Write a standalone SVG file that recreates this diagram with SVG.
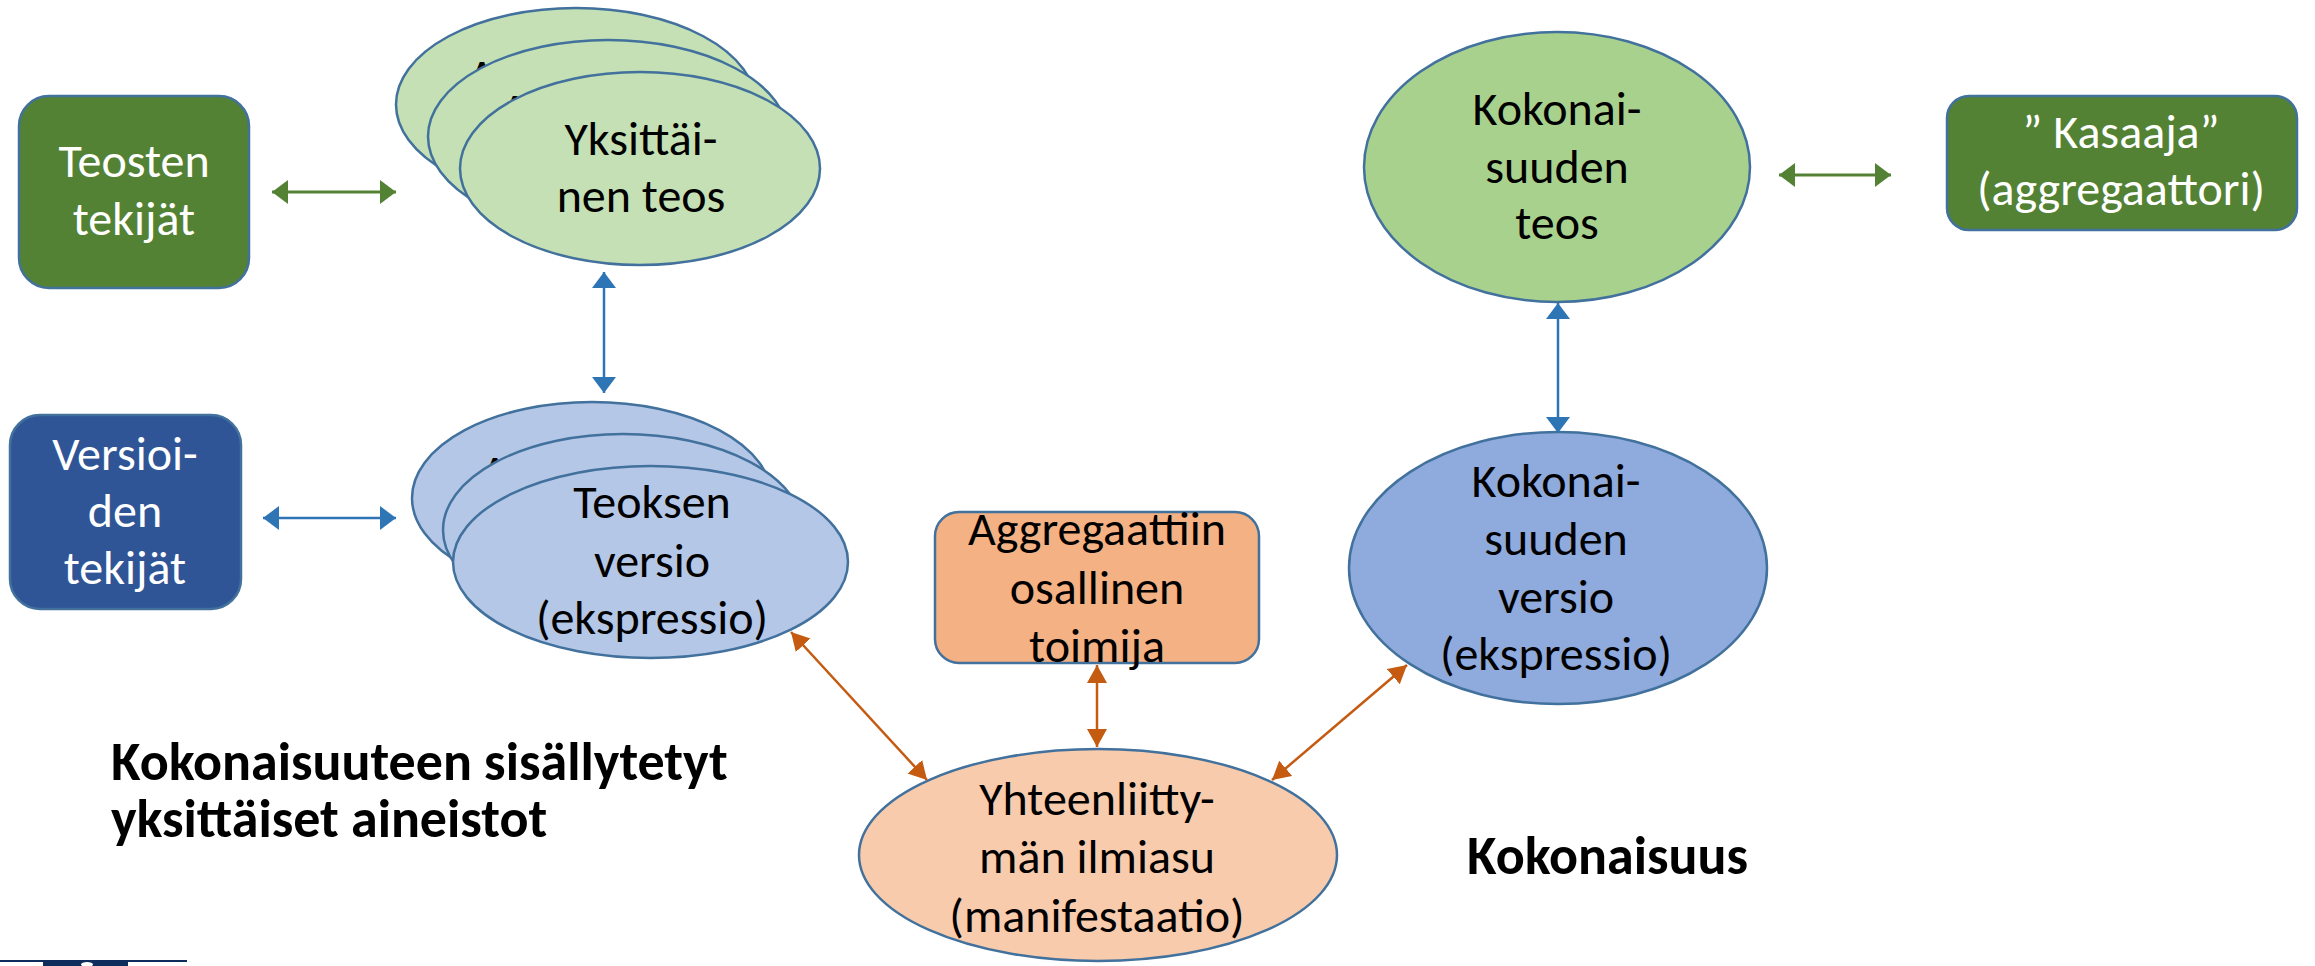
<svg xmlns="http://www.w3.org/2000/svg" width="2315" height="966" viewBox="0 0 2315 966">
<style>
text{font-family:Carlito,Lato,"Liberation Sans",sans-serif;font-size:48px;text-anchor:middle;fill:#000}
.w{fill:#fff}
.b{font-weight:bold;font-size:54px;text-anchor:start}
.sh{stroke:#41719C;stroke-width:2.5}
.g{stroke:#548235;stroke-width:3;fill:none}
.bl{stroke:#2E75B6;stroke-width:2.5;fill:none}
.o{stroke:#C55A11;stroke-width:2.5;fill:none}
</style>
<defs>
<marker id="mg" viewBox="0 0 16 24" refX="16" refY="12" markerWidth="16" markerHeight="24" markerUnits="userSpaceOnUse" orient="auto-start-reverse"><path d="M0,0 L16,12 L0,24 Z" fill="#548235"/></marker>
<marker id="mb" viewBox="0 0 16 24" refX="16" refY="12" markerWidth="16" markerHeight="24" markerUnits="userSpaceOnUse" orient="auto-start-reverse"><path d="M0,0 L16,12 L0,24 Z" fill="#2E75B6"/></marker>
<marker id="mo" viewBox="0 0 18 20" refX="18" refY="10" markerWidth="18" markerHeight="20" markerUnits="userSpaceOnUse" orient="auto-start-reverse"><path d="M0,0 L18,10 L0,20 Z" fill="#C55A11"/></marker>
</defs>
<rect width="2315" height="966" fill="#fff"/>

<g id="teosten-tekijat">
<rect class="sh" x="19" y="96" width="230" height="192" rx="30" fill="#548235"/>
<text class="w" x="134" y="177">Teosten</text>
<text class="w" x="134" y="235">tekijät</text>
</g>

<g id="yksittainen-teos">
<ellipse class="sh" cx="576" cy="104.5" rx="180" ry="96.5" fill="#C5E0B4"/>
<text x="482" y="92">A</text>
<ellipse class="sh" cx="608" cy="136.5" rx="180" ry="96.5" fill="#C5E0B4"/>
<text x="515" y="126">A</text>
<ellipse class="sh" cx="640" cy="168.5" rx="180" ry="96.5" fill="#C5E0B4"/>
<text x="641" y="155">Yksittäi-</text>
<text x="641" y="212">nen teos</text>
</g>

<g id="versioiden-tekijat">
<rect class="sh" x="10" y="415" width="231" height="194" rx="30" fill="#2F5597"/>
<text class="w" x="125" y="470">Versioi-</text>
<text class="w" x="125" y="527">den</text>
<text class="w" x="125" y="584">tekijät</text>
</g>

<g id="teoksen-versio">
<ellipse class="sh" cx="592" cy="498" rx="180" ry="96" fill="#B4C7E7"/>
<text x="495" y="488">A</text>
<ellipse class="sh" cx="623" cy="530" rx="180" ry="96" fill="#B4C7E7"/>
<ellipse class="sh" cx="650.5" cy="562" rx="197.5" ry="96" fill="#B4C7E7"/>
<text x="652" y="518">Teoksen</text>
<text x="652" y="577">versio</text>
<text x="652" y="634">(ekspressio)</text>
</g>

<g id="kokonaisuuden-teos">
<ellipse class="sh" cx="1557" cy="167" rx="193" ry="135" fill="#A9D18E"/>
<text x="1557" y="125">Kokonai-</text>
<text x="1557" y="183">suuden</text>
<text x="1557" y="239">teos</text>
</g>

<g id="kasaaja">
<rect class="sh" x="1947" y="96" width="350" height="134" rx="22" fill="#548235"/>
<text class="w" x="2121" y="148">” Kasaaja”</text>
<text class="w" x="2121" y="205">(aggregaattori)</text>
</g>

<g id="kokonaisuuden-versio">
<ellipse class="sh" cx="1558" cy="568" rx="209" ry="136" fill="#8FAADC"/>
<text x="1556" y="497">Kokonai-</text>
<text x="1556" y="555">suuden</text>
<text x="1556" y="613">versio</text>
<text x="1556" y="670">(ekspressio)</text>
</g>

<g id="aggregaattiin-osallinen-toimija">
<rect class="sh" x="935" y="512" width="324" height="151" rx="24" fill="#F4B183"/>
<text x="1097" y="545">Aggregaattiin</text>
<text x="1097" y="604">osallinen</text>
<text x="1097" y="662">toimija</text>
</g>

<g id="manifestaatio">
<ellipse class="sh" cx="1098" cy="855" rx="239" ry="106" fill="#F8CBAD"/>
<text x="1097" y="815">Yhteenliitty-</text>
<text x="1097" y="873">män ilmiasu</text>
<text x="1097" y="932">(manifestaatio)</text>
</g>

<g id="connectors">
<line class="g" x1="272" y1="192" x2="396" y2="192" marker-start="url(#mg)" marker-end="url(#mg)"/>
<line class="g" x1="1779" y1="175" x2="1891" y2="175" marker-start="url(#mg)" marker-end="url(#mg)"/>
<line class="bl" x1="263" y1="518" x2="396" y2="518" marker-start="url(#mb)" marker-end="url(#mb)"/>
<line class="bl" x1="604" y1="272" x2="604" y2="393" marker-start="url(#mb)" marker-end="url(#mb)"/>
<line class="bl" x1="1558" y1="303" x2="1558" y2="433" marker-start="url(#mb)" marker-end="url(#mb)"/>
<line class="o" x1="1097" y1="665" x2="1097" y2="747" marker-start="url(#mo)" marker-end="url(#mo)"/>
<line class="o" x1="791" y1="632" x2="927" y2="780" marker-start="url(#mo)" marker-end="url(#mo)"/>
<line class="o" x1="1272" y1="780" x2="1407" y2="665" marker-start="url(#mo)" marker-end="url(#mo)"/>
</g>

<g id="labels">
<text class="b" x="111" y="780">Kokonaisuuteen sisällytetyt</text>
<text class="b" x="111" y="837">yksittäiset aineistot</text>
<text class="b" x="1467" y="874">Kokonaisuus</text>
</g>

<g id="logo">
<rect x="0" y="960" width="187" height="2" fill="#0F2D5C"/>
<rect x="43" y="961" width="85" height="5" fill="#0F2D5C"/>
<ellipse cx="87" cy="964.5" rx="6" ry="2.5" fill="#fff"/>
</g>
</svg>
